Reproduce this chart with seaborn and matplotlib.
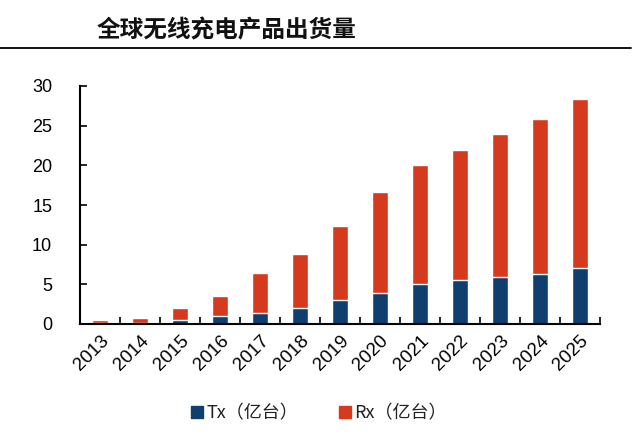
import pandas as pd
import matplotlib
matplotlib.use('Agg')
import matplotlib.pyplot as plt
import seaborn as sns
import numpy as np
from matplotlib.lines import Line2D

# Values (亿台)
years = ['2013', '2014', '2015', '2016', '2017', '2018', '2019',
         '2020', '2021', '2022', '2023', '2024', '2025']
tx = [0.1, 0.15, 0.5, 1.0, 1.35, 2.0, 3.0, 3.9, 5.0, 5.5, 5.9, 6.3, 7.0]
total = [0.5, 0.75, 2.0, 3.5, 6.4, 8.8, 12.3, 16.6, 20.1, 21.9, 24.0, 25.9, 28.3]
rx = [t - a for t, a in zip(total, tx)]

df = pd.DataFrame({'year': years, 'Tx': tx, 'Rx': rx, 'total': total})

sns.set_theme(style='white')
plt.rcParams['font.family'] = ['Liberation Sans', 'Noto Sans CJK SC', 'DejaVu Sans']

navy = '#0f3f6e'
red = '#d63a1e'

fig = plt.figure(figsize=(6.44, 4.37), dpi=100)
ax = fig.add_axes([80 / 644, 1 - 324 / 437, 520 / 644, 238 / 437])

# stacked bars: full height in red, Tx on top in navy
sns.barplot(data=df, x='year', y='total', color=red, width=0.4,
            saturation=1, ax=ax)
sns.barplot(data=df, x='year', y='Tx', color=navy, width=0.4,
            saturation=1, ax=ax)

ax.set_xlim(-0.5, len(years) - 0.5)
ax.set_ylim(0, 30)
ax.set_yticks(np.arange(0, 31, 5))
ax.set_xlabel('')
ax.set_ylabel('')

for s in ['top', 'right']:
    ax.spines[s].set_visible(False)
for s in ['left', 'bottom']:
    ax.spines[s].set_color('black')
    ax.spines[s].set_linewidth(1.5)

ax.tick_params(axis='y', direction='in', length=5, width=1.2,
               left=True, labelsize=13, colors='black', pad=20)
ax.set_xticks(np.arange(-0.5, len(years), 1), minor=True)
ax.tick_params(axis='x', which='minor', direction='in', length=5,
               width=1.2, bottom=True, color='black')
ax.tick_params(axis='x', which='major', length=0, labelsize=13.5,
               colors='black', pad=6)
plt.setp(ax.get_xticklabels(), rotation=45, ha='right',
         rotation_mode='anchor')

# title and rule under it
fig.text(97 / 644, 1 - 30 / 437, '全球无线充电产品出货量', fontsize=17,
         fontweight='bold', ha='left', va='center', color='#111111',
         family=['Noto Sans CJK SC', 'DejaVu Sans'])
fig.add_artist(Line2D([0, 631 / 644], [1 - 48 / 437, 1 - 48 / 437],
                      color='black', linewidth=1.3))

handles = [Line2D([], [], marker='s', linestyle='', color=navy, markersize=8),
           Line2D([], [], marker='s', linestyle='', color=red, markersize=8)]
leg = fig.legend(handles, ['Tx（亿台）', 'Rx（亿台）'], loc='center',
                 bbox_to_anchor=(318 / 644, 1 - 413 / 437), ncol=2,
                 frameon=False, fontsize=13, handletextpad=0.1,
                 columnspacing=2.2, handlelength=0.8)
for t in leg.get_texts():
    t.set_family(['Noto Sans CJK SC', 'DejaVu Sans'])
    t.set_color('#222222')

fig.savefig('out.png', dpi=100)
